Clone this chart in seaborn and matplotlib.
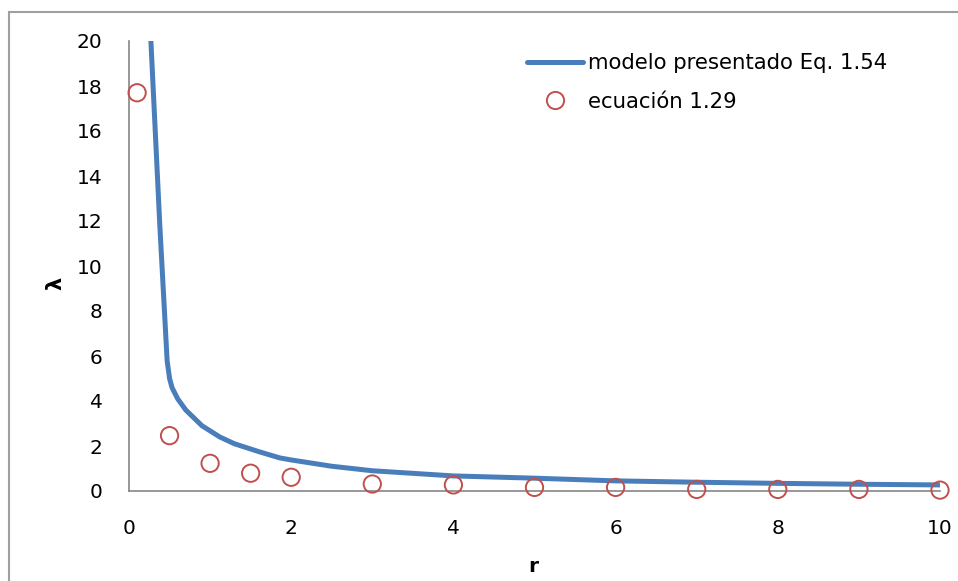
import matplotlib
matplotlib.use("Agg")
import matplotlib.pyplot as plt
import seaborn as sns
import pandas as pd
from matplotlib.patches import Rectangle
from matplotlib.lines import Line2D

# Curve: modelo presentado Eq. 1.54
r_model = [0.27, 0.38, 0.47, 0.5, 0.53, 0.6, 0.7, 0.9, 1.12, 1.3, 1.6, 1.86, 2.0, 2.5, 3.0, 4.0, 5.0, 6.0, 7.0, 8.0, 9.0, 10.0]
lam_model = [20.0, 11.8, 5.8, 5.0, 4.6, 4.1, 3.6, 2.9, 2.4, 2.1, 1.75, 1.47, 1.38, 1.1, 0.9, 0.67, 0.57, 0.45, 0.39, 0.34, 0.3, 0.27]

# Points: ecuación 1.29
r_eq = [0.1, 0.5, 1.0, 1.5, 2.0, 3.0, 4.0, 5.0, 6.0, 7.0, 8.0, 9.0, 10.0]
lam_eq = [17.7, 2.46, 1.23, 0.79, 0.61, 0.31, 0.27, 0.16, 0.16, 0.07, 0.07, 0.07, 0.04]

x_ticks = [0, 2, 4, 6, 8, 10]
y_ticks = [0, 2, 4, 6, 8, 10, 12, 14, 16, 18, 20]

label_model = "modelo presentado Eq. 1.54"
label_eq = "ecuación 1.29"

BLUE = "#4A7EBB"
RED = "#C0504D"
GREY = "#868686"

sns.set_theme(style="white")
plt.rcParams["font.family"] = ["DejaVu Sans"]
plt.rcParams["text.color"] = "black"
plt.rcParams["axes.labelcolor"] = "black"

W, H = 958, 581
fig = plt.figure(figsize=(W / 100, H / 100), dpi=100)
ax = fig.add_axes([129 / W, (H - 491) / H, (940 - 129) / W, (491 - 41) / H])

df_m = pd.DataFrame({"r": r_model, "lam": lam_model})
df_e = pd.DataFrame({"r": r_eq, "lam": lam_eq})

sns.lineplot(data=df_m, x="r", y="lam", ax=ax, color=BLUE, linewidth=3.6,
             sort=False, estimator=None, clip_on=True, zorder=2)
sns.scatterplot(data=df_e, x="r", y="lam", ax=ax, marker="o", s=155,
                color=RED, facecolor="none", edgecolor=RED, linewidth=1.4,
                clip_on=False, zorder=3)

ax.set_xlim(0, 10)
ax.set_ylim(0, 20)
ax.set_xticks(x_ticks)
ax.set_yticks(y_ticks)
ax.tick_params(axis="both", length=0, labelsize=14.5, colors="black")
ax.tick_params(axis="y", pad=19)
ax.tick_params(axis="x", pad=20)

for s in ["top", "right"]:
    ax.spines[s].set_visible(False)
for s in ["left", "bottom"]:
    ax.spines[s].set_color(GREY)
    ax.spines[s].set_linewidth(1.2)

ax.set_xlabel("r", fontsize=14.5, fontweight="bold", color="black")
ax.set_ylabel("λ", fontsize=15, fontweight="bold", color="black")
ax.xaxis.set_label_coords((533 - 129) / 811, (491 - 567) / 450)
ax.xaxis.label.set_va("center")
ax.yaxis.set_label_coords((55 - 129) / 811, (491 - 283) / 450)
ax.yaxis.label.set_va("center")

handles = [Line2D([], [], color=BLUE, linewidth=3.6),
           Line2D([], [], color=RED, marker="o", markersize=12.4, markerfacecolor="none",
                  markeredgewidth=1.4, linestyle="none")]
leg = ax.legend(handles, [label_model, label_eq], loc="upper left",
                bbox_to_anchor=((527 - 129) / 811, (491 - 53) / 450),
                frameon=False, fontsize=15.3, handlelength=2.64, handletextpad=0.22,
                labelspacing=0.88, borderaxespad=0, borderpad=0)
for t in leg.get_texts():
    t.set_color("black")

fig.patches.append(Rectangle((8.5 / W, -0.1), 1.2, (H - 12) / H + 0.1,
                             transform=fig.transFigure, fill=False,
                             edgecolor="#A0A0A0", linewidth=1.5))

fig.savefig("out.png", dpi=100)
